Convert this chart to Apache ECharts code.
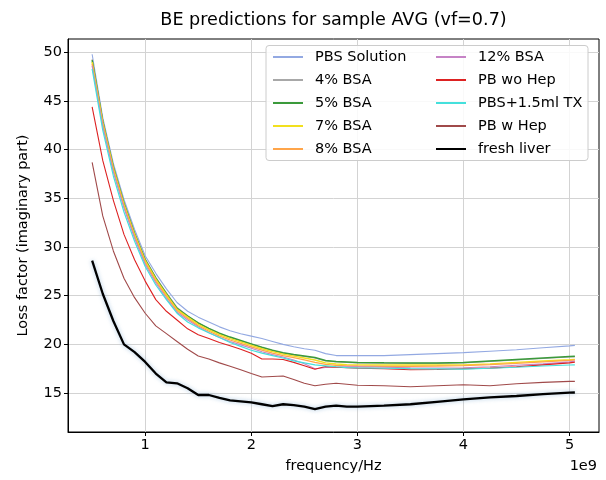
<!DOCTYPE html>
<html>
<head>
<meta charset="utf-8">
<script src="https://cdn.jsdelivr.net/npm/echarts@6/dist/echarts.min.js"></script>
<style>html,body{margin:0;padding:0;background:#fff;}#c{width:606px;height:480px;}</style>
</head>
<body>
<div id="c"></div>
<script>
// frequencies in Hz
const freq = [0.5e9,0.6e9,0.7e9,0.8e9,0.9e9,1.0e9,1.1e9,1.2e9,1.3e9,1.4e9,1.5e9,1.6e9,1.7e9,1.8e9,1.9e9,2.0e9,2.1e9,2.2e9,2.3e9,2.4e9,2.5e9,2.6e9,2.7e9,2.8e9,2.9e9,3.0e9,3.25e9,3.5e9,3.75e9,4.0e9,4.25e9,4.5e9,4.75e9,5.0e9,5.05e9];
const pbsSolution = [49.8,43.3,38.6,34.9,31.8,29.1,27.3,25.7,24.3,23.4,22.8,22.3,21.8,21.4,21.1,20.85,20.6,20.3,20.0,19.75,19.55,19.4,19.05,18.85,18.85,18.85,18.85,18.95,19.05,19.15,19.3,19.45,19.65,19.85,19.9];
const bsa4 = [49.3,43.0,38.3,34.6,31.5,28.8,26.9,25.3,23.8,22.95,22.2,21.6,21.1,20.7,20.35,20.0,19.65,19.35,19.1,18.9,18.75,18.6,18.3,18.2,18.15,18.1,18.07,18.05,18.05,18.1,18.25,18.4,18.55,18.7,18.72];
const bsa5 = [49.2,42.9,38.2,34.5,31.4,28.7,26.8,25.2,23.7,22.9,22.2,21.65,21.15,20.75,20.4,20.05,19.7,19.4,19.15,18.95,18.8,18.65,18.35,18.25,18.2,18.15,18.12,18.1,18.1,18.15,18.3,18.45,18.6,18.75,18.78];
const bsa7 = [49.0,42.8,38.1,34.4,31.3,28.6,26.7,25.1,23.6,22.8,22.05,21.5,21.0,20.6,20.25,19.9,19.55,19.25,19.0,18.8,18.6,18.4,18.1,17.98,17.92,17.9,17.88,17.88,17.88,17.9,18.0,18.15,18.3,18.42,18.45];
const bsa8 = [48.8,42.6,37.9,34.2,31.1,28.4,26.5,24.9,23.45,22.65,21.9,21.35,20.85,20.45,20.1,19.75,19.4,19.1,18.85,18.65,18.4,18.15,17.95,17.85,17.8,17.78,17.75,17.75,17.78,17.82,17.92,18.05,18.2,18.35,18.4];
const bsa12 = [48.6,42.4,37.7,34.0,30.9,28.2,26.3,24.7,23.3,22.5,21.8,21.2,20.7,20.3,19.95,19.6,19.25,18.95,18.7,18.4,18.0,17.5,17.62,17.68,17.7,17.7,17.65,17.6,17.58,17.6,17.7,17.85,18.0,18.2,18.3];
const pbWoHep = [44.4,38.9,34.8,31.3,28.7,26.5,24.6,23.4,22.5,21.6,21.0,20.6,20.2,19.85,19.5,19.1,18.5,18.5,18.45,18.15,17.8,17.45,17.72,17.65,17.6,17.56,17.5,17.4,17.42,17.5,17.56,17.7,17.9,18.1,18.18];
const pbsTx = [48.3,42.0,37.3,33.6,30.6,28.0,26.1,24.6,23.2,22.3,21.7,21.2,20.7,20.2,19.8,19.4,19.1,18.85,18.6,18.3,18.1,17.9,17.8,17.7,17.62,17.58,17.55,17.5,17.48,17.46,17.55,17.65,17.78,17.88,17.9];
const pbWHep = [38.7,33.2,29.6,26.8,24.8,23.2,21.9,21.1,20.3,19.5,18.8,18.5,18.1,17.75,17.4,17.0,16.65,16.7,16.75,16.4,16.0,15.75,15.9,16.0,15.9,15.8,15.75,15.65,15.75,15.85,15.75,15.95,16.1,16.2,16.2];
const freshLiver = [28.6,25.2,22.4,20.0,19.2,18.2,17.0,16.1,16.0,15.5,14.8,14.8,14.5,14.25,14.15,14.05,13.85,13.65,13.85,13.75,13.6,13.35,13.6,13.7,13.6,13.6,13.7,13.85,14.1,14.35,14.55,14.7,14.9,15.05,15.06];

const seriesNames = ['PBS Solution','4% BSA','5% BSA','7% BSA','8% BSA','12% BSA','PB wo Hep','PBS+1.5ml TX','PB w Hep','fresh liver'];
const seriesValues = [pbsSolution,bsa4,bsa5,bsa7,bsa8,bsa12,pbWoHep,pbsTx,pbWHep,freshLiver];
const colors = ['#93a9e2','#a8a8a8','#3b9a3b','#f2e01e','#ffa54a','#c683c6','#dd2222','#44e0dc','#a04a4a','#000000'];
const widths = [1.1,1.1,1.5,1.4,1.3,1.1,1.1,1.2,1.1,2.3];
const xTicks = [1,2,3,4,5];
const yTicks = [15,20,25,30,35,40,45,50];

const FONT = 'DejaVu Sans';
const FS = 14.5;
const chart = echarts.init(document.getElementById('c'), null, {renderer:'canvas'});

const series = seriesNames.map((n,i)=>({
  name:n, type:'line', symbol:'circle', symbolSize:0, showSymbol:false, animation:false,
  data: freq.map((f,j)=>[f, seriesValues[i][j]]),
  lineStyle: Object.assign({color:colors[i], width:widths[i]},
    i===9 ? {shadowBlur:4, shadowColor:'rgba(140,180,215,0.75)'} : {}),
  itemStyle:{color:colors[i]},
  z: 2 + i*0.01
}));

const legendCommon = {
  orient:'vertical', top:49.5, itemGap:8, itemWidth:30, itemHeight:14, padding:0,
  textStyle:{fontFamily:FONT, fontSize:FS, color:'#000', padding:[0,0,0,7]},
  itemStyle:{opacity:0, color:'rgba(0,0,0,0)', borderWidth:0},
  lineStyle:{shadowBlur:0, shadowColor:'rgba(0,0,0,0)'},
  selectedMode:false
};

chart.setOption({
  animation:false,
  backgroundColor:'#fff',
  color: colors,
  grid:{left:68, right:7, top:39, bottom:48, show:true, borderColor:'#000', borderWidth:1, backgroundColor:'transparent'},
  xAxis:{
    type:'value', min:0.2725e9, max:5.2775e9,
    name:'frequency/Hz', nameLocation:'middle', nameGap:27,
    nameTextStyle:{fontFamily:FONT, fontSize:FS, color:'#000'},
    axisLine:{show:true, lineStyle:{color:'#000', width:1}},
    axisTick:{show:true, length:4, lineStyle:{color:'#000'},
      customValues: xTicks.map(v=>v*1e9)},
    axisLabel:{fontFamily:FONT, fontSize:FS, color:'#000', margin:6,
      customValues: xTicks.map(v=>v*1e9),
      formatter: v => String(Math.round(v/1e9))},
    splitLine:{show:true, lineStyle:{color:'#d3d3d3', width:1}},
  },
  yAxis:{
    type:'value', min:11.0, max:51.37,
    name:'Loss factor (imaginary part)', nameLocation:'middle', nameGap:37,
    nameTextStyle:{fontFamily:FONT, fontSize:FS, color:'#000'},
    axisLine:{show:true, lineStyle:{color:'#000', width:1}},
    axisTick:{show:true, length:4, lineStyle:{color:'#000'}, customValues: yTicks},
    axisLabel:{fontFamily:FONT, fontSize:FS, color:'#000', margin:6, customValues: yTicks},
    splitLine:{show:true, lineStyle:{color:'#d3d3d3', width:1}},
  },
  legend:[
    Object.assign({}, legendCommon, {left:272, data:seriesNames.slice(0,5)}),
    Object.assign({}, legendCommon, {left:435, data:seriesNames.slice(5)})
  ],
  graphic:[
    {type:'rect', z:3, zlevel:0, shape:{x:266, y:45.5, width:322, height:115, r:3},
     style:{fill:'rgba(255,255,255,0.85)', stroke:'#cccccc', lineWidth:1}},
    {type:'text', z:5, x:333.5, y:20.5,
     style:{text:'BE predictions for sample AVG (vf=0.7)', font:'17.6px "DejaVu Sans"', fill:'#000',
       align:'center', verticalAlign:'middle', textAlign:'center', textVerticalAlign:'middle'}},
    {type:'text', z:5, x:597, y:466,
     style:{text:'1e9', font:FS+'px "DejaVu Sans"', fill:'#000',
       align:'right', verticalAlign:'middle', textAlign:'right', textVerticalAlign:'middle'}}
  ],
  series: series
});
</script>
</body>
</html>
